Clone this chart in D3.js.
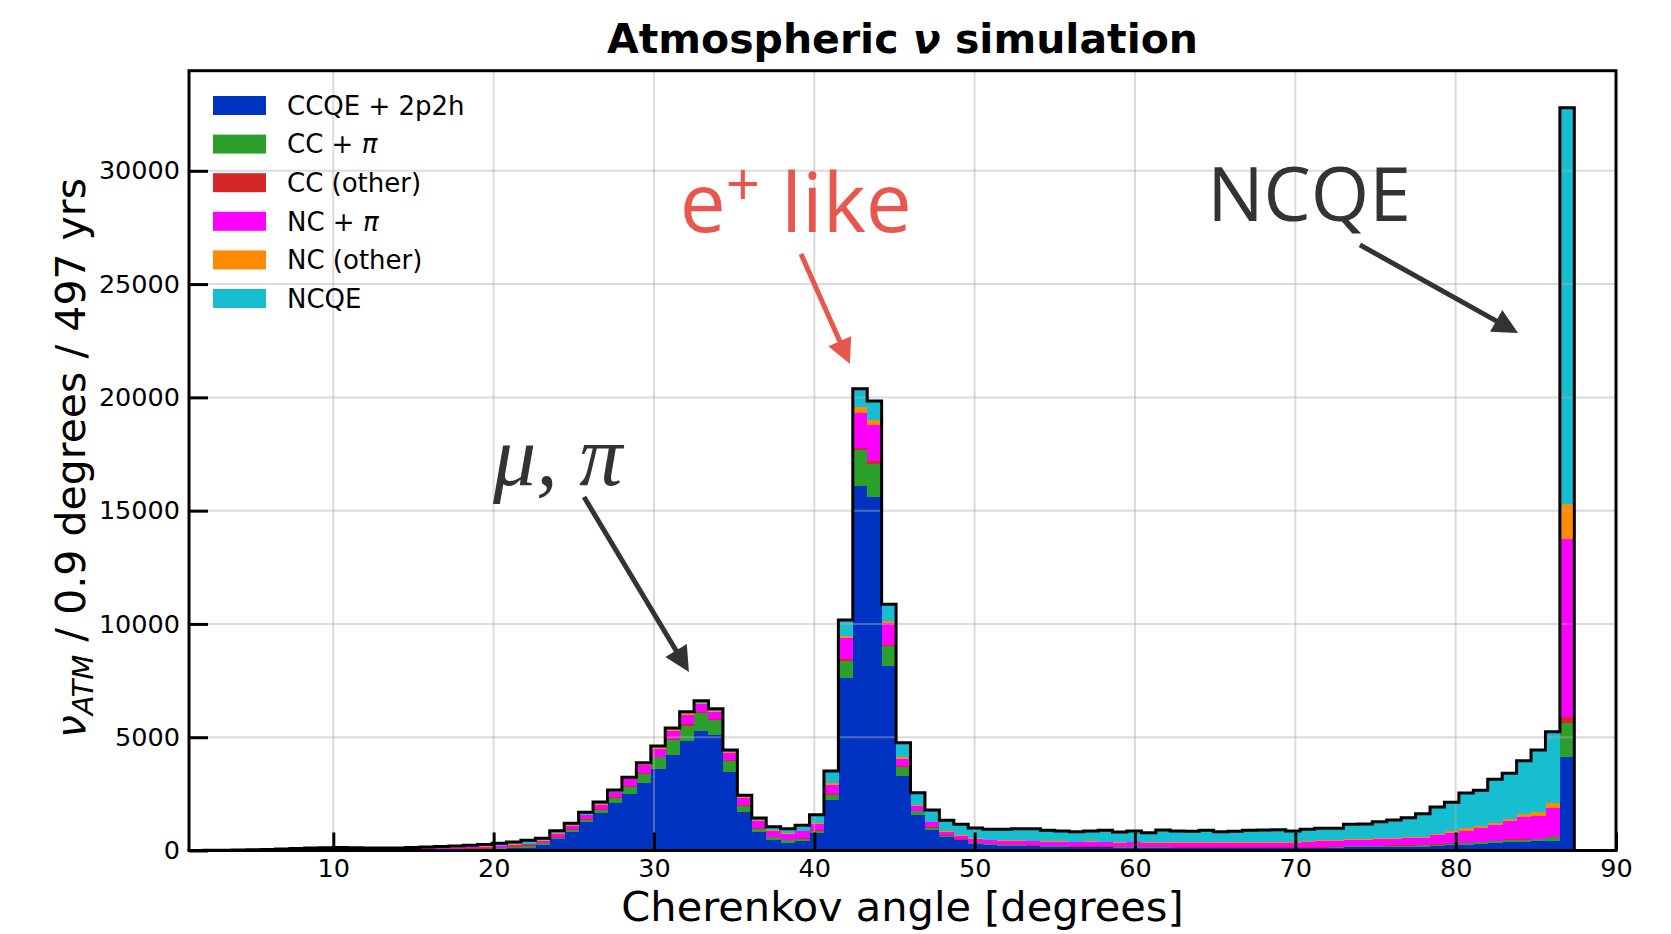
<!DOCTYPE html>
<html>
<head>
<meta charset="utf-8">
<script src="https://cdn.jsdelivr.net/npm/d3@7"></script>
<style>
body { margin: 0; background: #fff; }
svg { font-family: "DejaVu Sans", sans-serif; }
</style>
</head>
<body>
<div id="chart"></div>
<script>
// histogram: 96 bins of 0.9 degrees starting at 1 degree
var binStart = 1.0, binWidth = 0.9;

var ccqe = [2,4,6,8,12,18,28,36,44,50, 52,48,42,40,38,38,40,45,50,55,
    60,70,100,118,243,522,816,1258,1660,2090, 2493,2993,3611,4214,4832,5289,5097,3464,1699,816,
    463,343,431,758,2229,7627,16085,15615,8142,3288, 1552,920,580,445,300,240,215,200,190,175,
    160,150,150,140,130,130,120,120,110,110, 100,100,100,100,100,95,90,90,100,110,
    140,140,140,140,140,169,199,228,243,287, 316,360,390,419,434,4141];
var ccpi = [1,2,2,3,4,6,10,13,16,18, 19,17,16,15,14,14,15,16,18,19,
    20,25,45,59,73,44,89,88,117,235, 309,397,501,648,662,794,662,486,279,147,
    118,106,89,118,206,736,1590,1455,877,397, 177,95,60,40,30,25,25,25,25,25,
    25,25,25,25,25,25,20,20,20,20, 20,20,20,20,20,20,20,20,20,25,
    44,44,44,73,73,59,58,59,73,88, 103,104,88,89,147,1471];
var ccOther = [0,1,2,2,3,5,7,9,11,13, 13,12,11,11,12,13,15,17,19,20,
    20,25,40,45,30,44,30,30,44,30, 44,44,29,44,88,43,44,44,45,30,
    29,20,30,30,60,74,100,120,50,44, 30,35,25,25,18,20,20,20,20,20,
    20,20,20,20,20,20,20,20,20,20, 20,20,20,20,20,25,30,30,30,25,
    15,15,29,15,15,15,15,29,30,15, 20,29,30,15,29,265];
var ncpi = [1,1,2,3,5,7,10,14,17,19, 20,18,17,18,20,24,28,33,38,45,
    60,70,60,43,88,103,161,176,177,213, 294,339,353,383,398,353,323,324,279,294,
    250,245,296,249,383,955,1545,1590,956,324, 206,190,160,150,165,160,165,170,170,170,
    170,170,175,175,175,180,180,190,190,190, 195,195,200,205,210,210,206,235,250,250,
    250,255,280,294,309,323,397,471,529,618, 672,809,971,1013,1280,7869];
var ncOther = [0,1,1,1,2,3,4,5,6,7, 7,7,7,8,9,10,12,14,15,17,
    20,26,30,40,30,45,29,30,44,30, 40,44,59,59,73,44,44,44,44,59,
    45,44,30,44,88,74,265,220,100,59, 59,37,40,30,32,30,30,30,30,30,
    30,30,30,30,30,30,30,30,30,30, 30,30,30,35,35,40,44,44,44,44,
    44,44,44,44,44,44,59,59,110,88, 88,73,147,178,192,1545];
var ncqe = [1,1,2,3,4,6,11,13,16,18, 19,18,17,18,22,31,40,50,60,74,
    90,100,100,144,76,117,74,104,98,72, 50,58,59,58,73,88,90,73,89,89,
    145,202,234,381,542,706,795,837,740,647, 529,510,475,470,450,459,479,519,529,470,
    456,436,461,500,436,476,417,525,491,476, 525,466,476,510,520,530,471,515,534,524,
    662,671,736,780,868,1015,1191,1280,1552,1560, 1941,2030,2338,2721,3162,17489];

var seriesKeys = ["ccqe","ccpi","ccOther","ncpi","ncOther","ncqe"];
var seriesLabels = [["CCQE + 2p2h",""],["CC + ","π"],["CC (other)",""],["NC + ","π"],["NC (other)",""],["NCQE",""]];
var seriesColors = ["#0033c1","#2ca02c","#d62728","#ff00ff","#ff8c00","#17becf"];
var xTicks = [10,20,30,40,50,60,70,80,90];
var yTicks = [0,5000,10000,15000,20000,25000,30000];

var width = 1671, height = 934;
var svg = d3.select("#chart").append("svg").attr("width", width).attr("height", height);

var rows = ccqe.map(function(d,i){
    return {lo: binStart + i*binWidth, hi: binStart + (i+1)*binWidth,
        ccqe: ccqe[i], ccpi: ccpi[i], ccOther: ccOther[i], ncpi: ncpi[i], ncOther: ncOther[i], ncqe: ncqe[i]};
});
var totals = rows.map(function(r){ return d3.sum(seriesKeys, function(k){ return r[k]; }); });

var x = d3.scaleLinear().domain([1, 90]).range([189, 1616]);
var y = d3.scaleLinear().domain([0, d3.max(totals)*1.05]).range([850.5, 70.7]);

var stacked = d3.stack().keys(seriesKeys)(rows);

// stacked bars
svg.selectAll(".layer").data(stacked).enter().append("g")
    .attr("fill", function(d,i){ return seriesColors[i]; })
    .selectAll("rect").data(function(d){ return d; }).enter().append("rect")
    .attr("x", function(d){ return x(d.data.lo); })
    .attr("width", function(d){ return x(d.data.hi) - x(d.data.lo) + 0.4; })
    .attr("y", function(d){ return y(d[1]); })
    .attr("height", function(d){ return Math.max(0, y(d[0]) - y(d[1])); })
    .attr("shape-rendering","crispEdges");

// grid (drawn above bars, as in the original)
svg.selectAll(".gx").data(xTicks.slice(0,-1)).enter().append("line")
    .attr("x1", function(d){ return x(d); }).attr("x2", function(d){ return x(d); })
    .attr("y1", y.range()[0]).attr("y2", y.range()[1])
    .attr("stroke","#b0b0b0").attr("stroke-opacity",0.45).attr("stroke-width",2);
svg.selectAll(".gy").data(yTicks.slice(1)).enter().append("line")
    .attr("x1", x.range()[0]).attr("x2", x.range()[1])
    .attr("y1", function(d){ return y(d); }).attr("y2", function(d){ return y(d); })
    .attr("stroke","#b0b0b0").attr("stroke-opacity",0.45).attr("stroke-width",2);

// step outline of the total
var pts = [[rows[0].lo, 0]];
rows.forEach(function(r,i){ pts.push([r.lo, totals[i]]); pts.push([r.hi, totals[i]]); });
pts.push([rows[rows.length-1].hi, 0]);
svg.append("path").datum(pts)
    .attr("d", d3.line().x(function(d){ return x(d[0]); }).y(function(d){ return y(d[1]); }))
    .attr("fill","none").attr("stroke","#000").attr("stroke-width",3).attr("stroke-linejoin","miter");

// axes
var gx = svg.append("g").attr("transform","translate(0," + y(0) + ")")
    .call(d3.axisBottom(x).tickValues(xTicks).tickSize(-18).tickPadding(8).tickFormat(d3.format("d")));
var gy = svg.append("g").attr("transform","translate(" + x(1) + ",0)")
    .call(d3.axisLeft(y).tickValues(yTicks).tickSize(-19).tickPadding(9).tickFormat(d3.format("d")));
[gx, gy].forEach(function(g){
    g.select(".domain").remove();
    g.selectAll(".tick line").attr("stroke","#000").attr("stroke-width",3);
    g.selectAll(".tick text").attr("font-family","DejaVu Sans").attr("font-size",25.5).attr("fill","#000");
});
gx.selectAll(".tick text").attr("dy","0.74em");

// frame
svg.append("rect").attr("x", x(1)).attr("y", y.range()[1])
    .attr("width", x(90) - x(1)).attr("height", y.range()[0] - y.range()[1])
    .attr("fill","none").attr("stroke","#000").attr("stroke-width",3);

// legend
var leg = svg.selectAll(".leg").data(seriesKeys).enter().append("g")
    .attr("transform", function(d,i){ return "translate(213," + (105.5 + i*38.6) + ")"; });
leg.append("rect").attr("x",0).attr("y",-9.5).attr("width",53).attr("height",19)
    .attr("fill", function(d,i){ return seriesColors[i]; });
var lt = leg.append("text").attr("x",74).attr("y",0).attr("dy","0.36em").attr("font-size",26);
lt.append("tspan").text(function(d,i){ return seriesLabels[i][0]; });
lt.append("tspan").attr("font-style","italic").text(function(d,i){ return seriesLabels[i][1]; });

// titles
var title = svg.append("text").attr("x",(x(1)+x(90))/2).attr("y",53)
    .attr("text-anchor","middle").attr("font-size",41).attr("font-weight","bold");
title.append("tspan").text("Atmospheric ");
title.append("tspan").attr("font-style","italic").text("ν");
title.append("tspan").text(" simulation");

svg.append("text").attr("x",(x(1)+x(90))/2).attr("y",921)
    .attr("text-anchor","middle").attr("font-size",41.5).text("Cherenkov angle [degrees]");

var yl = svg.append("text").attr("transform","translate(85,458) rotate(-90)")
    .attr("text-anchor","middle").attr("font-size",41);
yl.append("tspan").attr("font-style","italic").text("ν");
yl.append("tspan").attr("font-style","italic").attr("font-size",29).attr("dy",8).text("ATM");
yl.append("tspan").attr("dy",-8).text(" / 0.9 degrees / 497 yrs");

// annotations (data coordinates)
var arrow = function(tail, tip, color){
    var x1 = x(tail[0]), y1 = y(tail[1]), x2 = x(tip[0]), y2 = y(tip[1]);
    var dx = x2-x1, dy = y2-y1, len = Math.sqrt(dx*dx+dy*dy);
    var ux = dx/len, uy = dy/len, hl = 25, hw = 12.5;
    var bx = x2 - ux*hl, by = y2 - uy*hl;
    svg.append("line").attr("x1",x1).attr("y1",y1).attr("x2",bx+ux*2).attr("y2",by+uy*2)
        .attr("stroke",color).attr("stroke-width",5);
    svg.append("polygon")
        .attr("points", [[x2,y2],[bx-uy*hw, by+ux*hw],[bx+uy*hw, by-ux*hw]].map(function(p){ return p.join(","); }).join(" "))
        .attr("fill",color);
};

var eText = svg.append("text").attr("x",x(31.6)).attr("y",y(27300))
    .attr("font-family","'Open Sans', Lato, sans-serif").attr("font-weight",400)
    .attr("font-size",82).attr("fill","#e8574d");
eText.append("tspan").text("e");
eText.append("tspan").attr("font-size",60).attr("dy",-26).text("+");
eText.append("tspan").attr("dy",26).text(" like");
arrow([39.17, 26330], [42.22, 21470], "#e8574d");

svg.append("text").attr("x",x(64.5)).attr("y",y(27790))
    .attr("font-family","'Open Sans', Lato, sans-serif").attr("font-weight",400)
    .attr("font-size",75).attr("fill","#333333").text("NCQE");
arrow([74.03, 26730], [83.89, 22840], "#333333");

svg.append("text").attr("x",x(19.96)).attr("y",y(16130))
    .attr("font-family","'Liberation Serif', serif").attr("font-style","italic").attr("font-size",86)
    .attr("fill","#333333").text("μ, π");
arrow([25.64, 15600], [32.18, 7880], "#333333");
</script>
</body>
</html>
